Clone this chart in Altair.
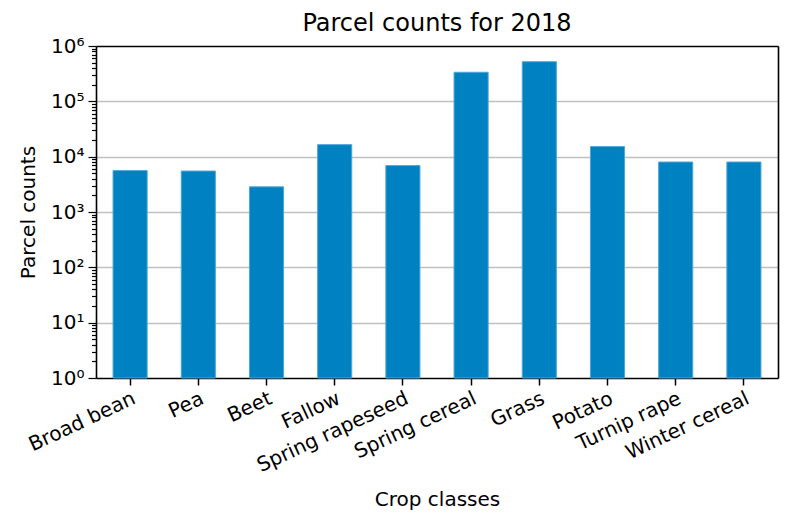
import altair as alt
import pandas as pd

crops = ["Broad bean", "Pea", "Beet", "Fallow", "Spring rapeseed",
         "Spring cereal", "Grass", "Potato", "Turnip rape", "Winter cereal"]
counts = [5600, 5500, 2850, 16500, 6900, 335000, 520000, 15200, 8000, 8000]

decades = [1, 10, 100, 1000, 10000, 100000, 1000000]
decade_labels = ["10⁰", "10¹", "10²", "10³", "10⁴", "10⁵", "10⁶"]
minor = [m * d for d in decades[:-1] for m in range(2, 10)]
tick_values = sorted(decades + minor)

df = pd.DataFrame({"crop": crops, "count": counts})

FONT = "DejaVu Sans"
dec_arr = "[" + ",".join(str(d) for d in decades) + "]"
lab_arr = "[" + ",".join("'" + s + "'" for s in decade_labels) + "]"
is_major = f"indexof({dec_arr}, datum.value) >= 0"
inner_major = "indexof([10,100,1000,10000,100000], datum.value) >= 0"

x_scale = alt.Scale(paddingInner=0.5, paddingOuter=0.25)
y_scale = alt.Scale(type="log", domain=[1, 1000000], nice=False)

bars = alt.Chart(df).mark_bar(
    color="#0081c2", stroke="#4fa6d6", strokeWidth=1
).encode(
    x=alt.X("crop:N", sort=crops, title="Crop classes", scale=x_scale,
            axis=alt.Axis(labelAngle=-25, labelAlign="right", labelBaseline="top",
                          labelFont=FONT, labelFontSize=20, labelColor="black",
                          labelPadding=3, tickSize=7, tickColor="black", tickWidth=1.5,
                          domain=True, domainColor="black", domainWidth=1.6, grid=False,
                          titleFont=FONT, titleFontSize=20, titleFontWeight="normal",
                          titleColor="black", titlePadding=14)),
    y=alt.Y("count:Q", title="Parcel counts", scale=y_scale,
            axis=alt.Axis(values=tick_values,
                          labelExpr=f"{is_major} ? {lab_arr}[indexof({dec_arr}, datum.value)] : ''",
                          labelFont=FONT, labelFontSize=20, labelColor="black",
                          labelPadding=4, labelOverlap=False,
                          tickColor="black", tickWidth=1.2,
                          tickSize={"condition": {"test": is_major, "value": 8}, "value": 4.5},
                          grid=True, gridColor="#c0c0c0", gridWidth=1.5,
                          gridOpacity={"condition": {"test": inner_major, "value": 1}, "value": 0},
                          domain=True, domainColor="black", domainWidth=1.6,
                          titleFont=FONT, titleFontSize=20, titleFontWeight="normal",
                          titleColor="black", titlePadding=12)),
    y2=alt.datum(1),
)

frame = alt.Chart(df).mark_bar(opacity=0).encode(
    x=alt.X("crop:N", sort=crops, title=None, scale=x_scale,
            axis=alt.Axis(orient="top", labels=False, ticks=False, grid=False,
                          domain=True, domainColor="black", domainWidth=1.6,
                          minExtent=0, maxExtent=0)),
    y=alt.Y("count:Q", title=None, scale=y_scale,
            axis=alt.Axis(orient="right", labels=False, ticks=False, grid=False,
                          domain=True, domainColor="black", domainWidth=1.6,
                          minExtent=0, maxExtent=0)),
    y2=alt.datum(1),
)

chart = alt.layer(bars, frame).resolve_axis(x="independent", y="independent").properties(
    width=682, height=332,
    title=alt.TitleParams("Parcel counts for 2018", font=FONT, fontSize=24,
                          fontWeight="normal", color="black", offset=0, frame="group"),
    autosize=alt.AutoSizeParams(type="none"),
    padding={"left": 96, "top": 46, "right": 22, "bottom": 146},
).configure_view(stroke=None).configure(background="white")

chart.save("out.html", embed_options={"renderer": "svg", "actions": False})
